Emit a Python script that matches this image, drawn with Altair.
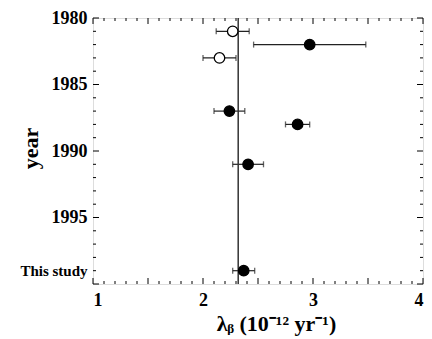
import altair as alt
import pandas as pd

# ---- data ----
years = [1981, 1982, 1983, 1987, 1988, 1991, 1999]
lam = [2.27, 2.97, 2.15, 2.24, 2.86, 2.41, 2.37]
err = [0.15, 0.51, 0.15, 0.14, 0.11, 0.14, 0.10]
kind = ["open", "filled", "open", "filled", "filled", "filled", "filled"]
ref_value = 2.32

x_label_values = [1, 2, 3, 4]
y_label_values = [1980, 1985, 1990, 1995, 1999]
y_label_texts = ["1980", "1985", "1990", "1995", "This study"]

x_major_ticks = [1.0, 1.5, 2.0, 2.5, 3.0, 3.5, 4.0]
x_minor_ticks = [1.1, 1.2, 1.3, 1.4, 1.6, 1.7, 1.8, 1.9, 2.1, 2.2, 2.3, 2.4,
                 2.6, 2.7, 2.8, 2.9, 3.1, 3.2, 3.3, 3.4, 3.6, 3.7, 3.8, 3.9]
y_major_ticks = [1980, 1985, 1990, 1995, 2000]
y_minor_ticks = [1981, 1982, 1983, 1984, 1986, 1987, 1988, 1989, 1991, 1992,
                 1993, 1994, 1996, 1997, 1998, 1999]

W, H = 330, 266
FONT = "Liberation Serif"

df = pd.DataFrame({"year": years, "lam": lam, "err": err, "kind": kind})
df["lo"] = df["lam"] - df["err"]
df["hi"] = df["lam"] + df["err"]
caps = pd.concat([
    pd.DataFrame({"year": years, "v": df["lo"]}),
    pd.DataFrame({"year": years, "v": df["hi"]}),
])

xs = alt.Scale(domain=[1, 4], nice=False, zero=False, padding=0)
ys = alt.Scale(domain=[1980, 2000], reverse=True, nice=False, zero=False, padding=0)

label_expr = " : ".join(
    [f"datum.value == {v} ? '{t}'" for v, t in zip(y_label_values, y_label_texts)]
) + " : datum.label"

x_axis = alt.Axis(
    values=x_label_values, format="d", ticks=False, domain=False, grid=False,
    labelFont=FONT, labelFontWeight="bold", labelFontSize=18, labelColor="black",
    labelPadding=7,
    title="λᵦ   (10⁻¹² yr⁻¹)", titleFont=FONT, titleFontSize=22,
    titleFontWeight="bold", titleColor="black",
    titleX=183, titleY=46, titleAlign="center", titleBaseline="alphabetic",
)
y_axis = alt.Axis(
    values=y_label_values, format="d", ticks=False, domain=False, grid=False,
    labelExpr=label_expr, labelFont=FONT, labelFontWeight="bold",
    labelFontSize={"condition": {"test": "datum.value == 1999", "value": 15}, "value": 18},
    labelColor="black", labelPadding=6,
    title="year", titleFont=FONT, titleFontSize=22, titleFontWeight="bold",
    titleColor="black", titleAngle=270, titleX=-56, titleY=130,
    titleAlign="center", titleBaseline="alphabetic",
)

def X(field):
    return alt.X(field, scale=xs, axis=x_axis)

def Y(field):
    return alt.Y(field, scale=ys, axis=y_axis)

bars = alt.Chart(df).mark_rule(color="#222", strokeWidth=1.2).encode(
    x=X("lo:Q"), x2="hi:Q", y=Y("year:Q"),
)

vline = alt.Chart(pd.DataFrame({"x": [ref_value]})).mark_rule(
    color="#333", strokeWidth=1.5
).encode(x=X("x:Q"))

cap_marks = alt.Chart(caps).mark_tick(
    orient="vertical", size=6, thickness=1.3, color="#222"
).encode(x=X("v:Q"), y=Y("year:Q"))

points = alt.Chart(df).mark_point(
    shape="circle", filled=True, size=110, stroke="black", strokeWidth=1.3, opacity=1
).encode(
    x=X("lam:Q"), y=Y("year:Q"),
    fill=alt.Fill("kind:N", scale=alt.Scale(domain=["open", "filled"], range=["white", "black"]), legend=None),
)

def xticks(vals, length):
    d = pd.DataFrame({"t": vals})
    bot = alt.Chart(d).mark_rule(color="black", strokeWidth=1).encode(
        x=X("t:Q"), y=alt.value(H), y2=alt.value(H - length))
    top = alt.Chart(d).mark_rule(color="black", strokeWidth=1).encode(
        x=X("t:Q"), y=alt.value(0), y2=alt.value(length))
    return [bot, top]

def yticks(vals, length):
    d = pd.DataFrame({"t": vals})
    left = alt.Chart(d).mark_rule(color="black", strokeWidth=1).encode(
        y=Y("t:Q"), x=alt.value(0), x2=alt.value(length))
    right = alt.Chart(d).mark_rule(color="black", strokeWidth=1).encode(
        y=Y("t:Q"), x=alt.value(W), x2=alt.value(W - length))
    return [left, right]

tick_layers = (xticks(x_major_ticks, 6) + xticks(x_minor_ticks, 3)
               + yticks(y_major_ticks, 6) + yticks(y_minor_ticks, 3))

chart = alt.layer(
    bars, vline, cap_marks, *tick_layers, points
).properties(
    width=W, height=H, autosize="none",
    padding={"left": 85, "top": 10, "right": 1, "bottom": 52},
).configure_view(stroke="black", strokeWidth=1.5).configure(background="white")

chart.save("out.html", embed_options={"renderer": "svg", "actions": False})
